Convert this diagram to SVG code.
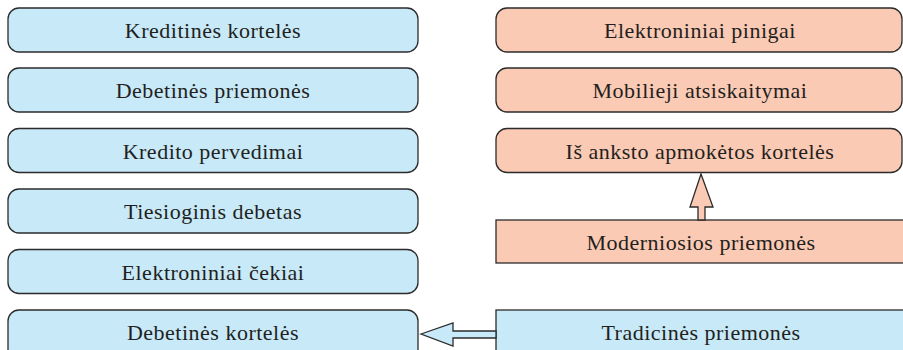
<svg xmlns="http://www.w3.org/2000/svg" width="903" height="350" viewBox="0 0 903 350">
<style>
.b rect{fill:#c7e9f8;stroke:#2b2b2b;stroke-width:1.3}
.p rect{fill:#fbcab4;stroke:#2b2b2b;stroke-width:1.3}
text{font-family:"Liberation Serif","Times New Roman",serif;font-size:22px;letter-spacing:0.5px;fill:#231f20;text-anchor:middle}
.c polygon{stroke:#2b2b2b;stroke-width:1.3;stroke-linejoin:miter}
</style>
<rect width="903" height="350" fill="#fff"/>
<g id="kreditines-korteles" class="b"><rect x="8" y="8" width="410" height="44" rx="11"/><text x="213" y="38">Kreditinės kortelės</text></g>
<g id="debetines-priemones" class="b"><rect x="8" y="68" width="410" height="44" rx="11"/><text x="213" y="98">Debetinės priemonės</text></g>
<g id="kredito-pervedimai" class="b"><rect x="8" y="128.5" width="410" height="44" rx="11"/><text x="213" y="158.5">Kredito pervedimai</text></g>
<g id="tiesioginis-debetas" class="b"><rect x="8" y="189" width="410" height="44" rx="11"/><text x="213" y="219">Tiesioginis debetas</text></g>
<g id="elektroniniai-cekiai" class="b"><rect x="8" y="249.5" width="410" height="44" rx="11"/><text x="213" y="279.5">Elektroniniai čekiai</text></g>
<g id="debetines-korteles" class="b"><rect x="8" y="310" width="410" height="50" rx="11"/><text x="213" y="340">Debetinės kortelės</text></g>
<g id="elektroniniai-pinigai" class="p"><rect x="496" y="8" width="406" height="44" rx="11"/><text x="700" y="38">Elektroniniai pinigai</text></g>
<g id="mobilieji-atsiskaitymai" class="p"><rect x="496" y="68" width="406" height="44" rx="11"/><text x="700" y="98">Mobilieji atsiskaitymai</text></g>
<g id="is-anksto-apmoketos-korteles" class="p"><rect x="496" y="128.5" width="406" height="44" rx="11"/><text x="700" y="158.5">Iš anksto apmokėtos kortelės</text></g>
<g id="moderniosios-priemones" class="p"><rect x="496" y="220" width="420" height="43"/><text x="701" y="250">Moderniosios priemonės</text></g>
<g id="tradicines-priemones" class="b"><rect x="496" y="310" width="420" height="50"/><text x="701" y="340">Tradicinės priemonės</text></g>
<g id="connectors" class="c">
<polygon points="701,174 713,207 705,207 705,220 698,220 698,207 690,207" fill="#fbcab4"/>
<polygon points="421,334 453,323 453,331 496,331 496,338 453,338 453,346" fill="#c7e9f8"/>
</g>
</svg>
